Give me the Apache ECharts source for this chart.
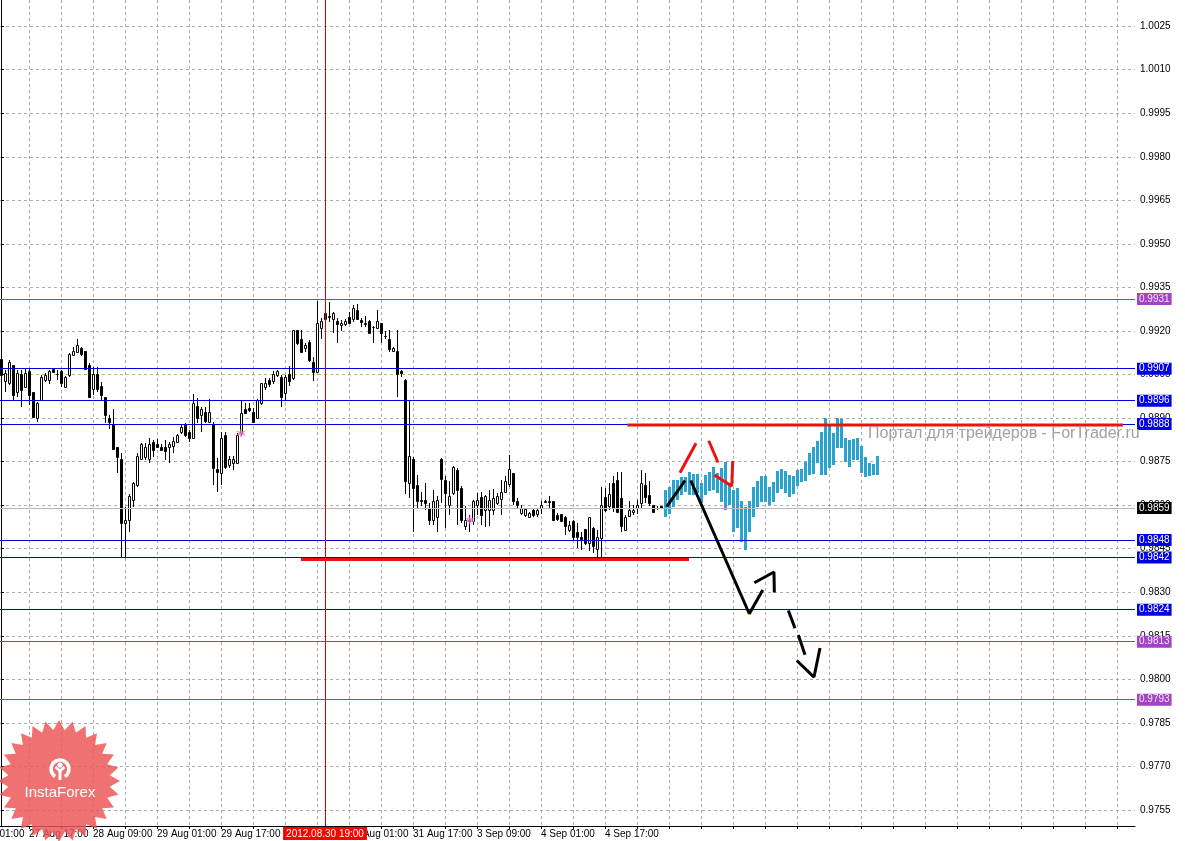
<!DOCTYPE html>
<html><head><meta charset="utf-8">
<script src="https://cdn.jsdelivr.net/npm/echarts@6/dist/echarts.min.js"></script>
<style>html,body{margin:0;padding:0;background:#fff}#c{width:1185px;height:841px}</style>
</head><body><div id="c"></div>
<script>
// ---- hourly candles (index 0 = 27 Aug 10:00) ----
const candleO = [
0.99102,0.99029,0.99020,0.99083,0.98991,0.99052,0.99008,0.99062,0.98991,0.98899,
0.98962,0.99031,0.99031,0.99069,0.99052,0.99062,0.99008,0.99048,0.99117,0.99129,
0.99142,0.99131,0.99083,0.98999,0.99052,0.99011,0.98972,0.98902,0.98879,0.98799,
0.98758,0.98538,0.98549,0.98618,0.98670,0.98758,0.98767,0.98758,0.98819,0.98811,
0.98802,0.98802,0.98799,0.98804,0.98819,0.98853,0.98876,0.98853,0.98830,0.98942,
0.98911,0.98922,0.98888,0.98880,0.98724,0.98712,0.98842,0.98739,0.98747,0.98747,
0.98848,0.98931,0.98934,0.98920,0.98899,0.98951,0.99008,0.99031,0.99029,0.99048,
0.99040,0.98985,0.99052,0.99037,0.99203,0.99171,0.99140,0.99161,0.99094,0.99060,
0.99211,0.99240,0.99251,0.99240,0.99234,0.99221,0.99223,0.99249,0.99240,0.99272,
0.99238,0.99226,0.99234,0.99215,0.99211,0.99226,0.99183,0.99171,0.99131,0.99131,
0.99062,0.99031,0.98676,0.98760,0.98668,0.98618,0.98618,0.98590,0.98550,0.98561,
0.98758,0.98687,0.98601,0.98641,0.98722,0.98659,0.98529,0.98550,0.98544,0.98601,
0.98628,0.98582,0.98582,0.98582,0.98609,0.98621,0.98647,0.98672,0.98710,0.98613,
0.98573,0.98567,0.98559,0.98584,0.98570,0.98590,0.98613,0.98612,0.98613,0.98567,
0.98570,0.98559,0.98515,0.98547,0.98509,0.98492,0.98517,0.98469,0.98521,0.98449,
0.98487,0.98628,0.98596,0.98676,0.98687,0.98624,0.98515,0.98563,0.98575,0.98590,
0.98609,0.98670,0.98636,0.98601,0.98590,0.98598];
const candleH = [
0.99140,0.99066,0.99100,0.99083,0.99066,0.99066,0.99069,0.99069,0.98991,0.98957,
0.99048,0.99054,0.99066,0.99074,0.99066,0.99066,0.99045,0.99123,0.99146,0.99171,
0.99146,0.99131,0.99089,0.99077,0.99077,0.99025,0.98972,0.98911,0.98930,0.98802,
0.98779,0.98595,0.98639,0.98681,0.98779,0.98813,0.98813,0.98830,0.98825,0.98827,
0.98811,0.98825,0.98819,0.98836,0.98845,0.98879,0.98882,0.98859,0.98983,0.98968,
0.98937,0.98937,0.98965,0.98888,0.98762,0.98853,0.98853,0.98770,0.98770,0.98848,
0.98962,0.98951,0.98951,0.98934,0.98965,0.99022,0.99037,0.99037,0.99063,0.99066,
0.99048,0.99048,0.99079,0.99203,0.99203,0.99203,0.99157,0.99169,0.99112,0.99303,
0.99243,0.99301,0.99301,0.99266,0.99243,0.99238,0.99240,0.99266,0.99289,0.99292,
0.99243,0.99251,0.99238,0.99217,0.99272,0.99226,0.99201,0.99203,0.99146,0.99203,
0.99066,0.99034,0.98962,0.98767,0.98705,0.98647,0.98676,0.98607,0.98651,0.98630,
0.98762,0.98699,0.98682,0.98735,0.98727,0.98667,0.98596,0.98567,0.98618,0.98641,
0.98647,0.98636,0.98653,0.98655,0.98641,0.98687,0.98699,0.98773,0.98710,0.98624,
0.98601,0.98590,0.98578,0.98590,0.98590,0.98616,0.98618,0.98630,0.98613,0.98573,
0.98570,0.98563,0.98544,0.98550,0.98538,0.98509,0.98517,0.98561,0.98524,0.98515,
0.98664,0.98659,0.98678,0.98699,0.98713,0.98713,0.98567,0.98613,0.98601,0.98618,
0.98722,0.98710,0.98682,0.98601,0.98596,0.98598];
const candleL = [
0.99040,0.98991,0.99014,0.98962,0.98974,0.98939,0.99003,0.98945,0.98899,0.98888,
0.98960,0.99025,0.99016,0.99054,0.99031,0.99008,0.99006,0.99043,0.99114,0.99123,
0.99114,0.99066,0.98972,0.98980,0.98991,0.98962,0.98882,0.98861,0.98790,0.98710,
0.98417,0.98417,0.98506,0.98595,0.98664,0.98756,0.98756,0.98747,0.98767,0.98796,
0.98788,0.98756,0.98747,0.98779,0.98813,0.98845,0.98836,0.98819,0.98827,0.98882,
0.98851,0.98884,0.98882,0.98670,0.98647,0.98670,0.98724,0.98729,0.98721,0.98747,
0.98838,0.98916,0.98922,0.98888,0.98896,0.98945,0.98997,0.99008,0.99017,0.99043,
0.98939,0.98962,0.99011,0.99031,0.99152,0.99123,0.99129,0.99094,0.99029,0.99056,
0.99171,0.99235,0.99232,0.99194,0.99160,0.99201,0.99217,0.99223,0.99232,0.99238,
0.99215,0.99215,0.99190,0.99157,0.99206,0.99157,0.99171,0.99129,0.99129,0.98972,
0.99040,0.98638,0.98624,0.98509,0.98590,0.98596,0.98584,0.98532,0.98532,0.98509,
0.98609,0.98521,0.98567,0.98636,0.98532,0.98538,0.98515,0.98509,0.98532,0.98567,
0.98532,0.98524,0.98527,0.98567,0.98601,0.98567,0.98641,0.98664,0.98601,0.98590,
0.98567,0.98559,0.98555,0.98559,0.98559,0.98570,0.98607,0.98590,0.98547,0.98547,
0.98544,0.98498,0.98509,0.98481,0.98452,0.98446,0.98464,0.98441,0.98435,0.98418,
0.98418,0.98578,0.98584,0.98578,0.98573,0.98506,0.98513,0.98561,0.98567,0.98570,
0.98590,0.98609,0.98598,0.98575,0.98584,0.98590];
const candleC = [
0.99048,0.99054,0.99094,0.98980,0.99054,0.98997,0.99054,0.98980,0.98905,0.98951,
0.99040,0.99048,0.99062,0.99060,0.99051,0.99020,0.99040,0.99120,0.99131,0.99152,
0.99121,0.99069,0.98972,0.99052,0.98999,0.98980,0.98911,0.98888,0.98793,0.98767,
0.98538,0.98549,0.98630,0.98678,0.98770,0.98811,0.98802,0.98811,0.98790,0.98799,
0.98790,0.98788,0.98811,0.98822,0.98842,0.98871,0.98842,0.98830,0.98951,0.98899,
0.98931,0.98890,0.98920,0.98729,0.98716,0.98830,0.98733,0.98758,0.98758,0.98842,
0.98919,0.98919,0.98928,0.98888,0.98962,0.99020,0.99020,0.99017,0.99052,0.99062,
0.98972,0.99043,0.99029,0.99203,0.99157,0.99129,0.99152,0.99100,0.99060,0.99226,
0.99234,0.99261,0.99249,0.99261,0.99223,0.99226,0.99234,0.99226,0.99280,0.99240,
0.99232,0.99225,0.99192,0.99214,0.99234,0.99192,0.99182,0.99137,0.99140,0.99051,
0.99054,0.98683,0.98770,0.98659,0.98613,0.98613,0.98607,0.98550,0.98613,0.98618,
0.98690,0.98641,0.98630,0.98731,0.98653,0.98550,0.98550,0.98544,0.98613,0.98618,
0.98567,0.98630,0.98618,0.98624,0.98630,0.98647,0.98682,0.98724,0.98613,0.98601,
0.98590,0.98586,0.98573,0.98567,0.98584,0.98601,0.98612,0.98613,0.98550,0.98552,
0.98547,0.98529,0.98532,0.98492,0.98492,0.98483,0.98469,0.98559,0.98458,0.98490,
0.98601,0.98584,0.98639,0.98590,0.98575,0.98527,0.98561,0.98582,0.98582,0.98601,
0.98678,0.98628,0.98607,0.98578,0.98589,0.98590];

// ---- projected (cyan) bars, starting at index 166 ----
const forecastStart = 166;
const forecastH = [
0.98653,0.98663,0.98687,0.98687,0.98697,0.98697,0.98714,0.98708,0.98708,0.98677,
0.98704,0.98714,0.98732,0.98711,0.98728,0.98749,0.98677,0.98653,0.98659,0.98615,
0.98594,0.98615,0.98663,0.98684,0.98701,0.98701,0.98663,0.98680,0.98718,0.98725,
0.98718,0.98704,0.98701,0.98721,0.98725,0.98749,0.98780,0.98801,0.98821,0.98852,
0.98900,0.98876,0.98849,0.98900,0.98897,0.98832,0.98825,0.98828,0.98832,0.98804,
0.98766,0.98745,0.98742,0.98770];
const forecastL = [
0.98560,0.98570,0.98594,0.98618,0.98635,0.98646,0.98635,0.98635,0.98642,0.98608,
0.98635,0.98649,0.98653,0.98642,0.98611,0.98584,0.98601,0.98508,0.98522,0.98473,
0.98446,0.98508,0.98560,0.98594,0.98611,0.98611,0.98601,0.98611,0.98642,0.98656,
0.98642,0.98628,0.98639,0.98666,0.98680,0.98684,0.98704,0.98708,0.98745,0.98704,
0.98704,0.98728,0.98739,0.98797,0.98797,0.98749,0.98732,0.98756,0.98756,0.98711,
0.98697,0.98701,0.98704,0.98704];

// ---- axis ticks / labels ----
const timeTickIdx = [-9,7,23,39,55,71,87,103,119,135,151];
const timeTickText = ['27 Aug 01:00','27 Aug 17:00','28 Aug 09:00','29 Aug 01:00','29 Aug 17:00','30 Aug 09:00','31 Aug 01:00','31 Aug 17:00','3 Sep 09:00','4 Sep 01:00','4 Sep 17:00'];
const priceTicks = [0.9755,0.9770,0.9785,0.9800,0.9815,0.9830,0.9845,0.9860,0.9875,0.9890,0.9905,0.9920,0.9935,0.9950,0.9965,0.9980,0.9995,1.0010,1.0025];
const crossIdx = 81;
const crossText = '2012.08.30 19:00';

// ---- horizontal levels ----
const levelPrice = [0.9931,0.9907,0.9896,0.9888,0.9859,0.9848,0.9842,0.9824,0.9813,0.9793];
const levelKind  = ['purple','blue','blue','blue','bid','blue','blue','blue','purple','purple'];

// ---- drawn annotations [index, price] ----
const redTop = [[156.6,0.98876],[280.5,0.98876]];
const redBottom = [[75,0.98413],[172,0.98413]];
const blackUp = [[166.43,0.98595],[171.0,0.98685]];
const blackDown = [[172.43,0.98685],[187.08,0.98226],[190.43,0.98308]];
const blackHead1 = [[188.33,0.98333],[193.25,0.98370],[193.33,0.98299]];
const dashA = [[196.83,0.98237],[198.5,0.98176]];
const dashB = [[199.33,0.98153],[201.0,0.98085]];
const blackHead2 = [[198.93,0.98065],[203.25,0.98008],[204.75,0.98108]];
const red1 = [[169.75,0.98712],[173.75,0.98813]];
const red2 = [[176.93,0.98822],[179.25,0.98747]];
const red3 = [[178.33,0.98704],[182.68,0.98666],[182.93,0.98752]];
const starMarks = [[60,0.98848],[117.25,0.98549]];

// ---------------------------------------------
const FONT = 'Liberation Sans';
const candleData = candleO.map((o, i) => [i, o, candleH[i], candleL[i], candleC[i]]);
const forecastData = forecastH.map((h, k) => [forecastStart + k, h, forecastL[k]]);
const gridIdx = [];
for (let v = -1; v <= 283; v += 8) gridIdx.push(v);

const levelStyle = {
  purple: { line: '#9a32cd', box: '#a243c6', text: '#f4e8fa' },
  blue:   { line: '#0000d8', box: '#0000e4', text: '#ffffff' },
  bid:    { line: '#b8b8b8', box: '#000000', text: '#ffffff' }
};

function lineSeries(data, color, width, z) {
  return { type: 'line', data: data, symbol: 'none', showSymbol: false, silent: true,
    lineStyle: { color: color, width: width }, z: z, animation: false };
}

const chart = echarts.init(document.getElementById('c'), null, { renderer: 'canvas' });
chart.setOption({
  animation: false,
  backgroundColor: '#ffffff',
  textStyle: { fontFamily: FONT },
  grid: { left: -36, top: 0, width: 1171, height: 826, containLabel: false, outerBoundsMode: 'none' },
  xAxis: {
    type: 'value', min: -9.25, max: 283.5,
    axisLine: { show: true, onZero: false, lineStyle: { color: '#000', width: 1 } },
    axisTick: { show: true, customValues: gridIdx, length: 3, lineStyle: { color: '#000' } },
    axisLabel: { customValues: timeTickIdx, align: 'left', margin: 3, fontSize: 10, color: '#000', fontFamily: FONT,
      formatter: v => { const k = timeTickIdx.indexOf(Math.round(v)); return k >= 0 ? timeTickText[k] : ''; } },
    splitLine: { show: true, lineStyle: { color: '#b2aab2', type: [3, 3], width: 1 } }
  },
  yAxis: {
    type: 'value', position: 'right', min: 0.97495, max: 1.0034, scale: true,
    axisLine: { show: true, lineStyle: { color: '#000', width: 1 } },
    axisTick: { show: true, customValues: priceTicks, length: 3, lineStyle: { color: '#000' } },
    axisLabel: { customValues: priceTicks, margin: 5, fontSize: 10, color: '#000', fontFamily: FONT,
      formatter: v => v.toFixed(4) },
    splitLine: { show: true, lineStyle: { color: '#b2aab2', type: [3, 3], width: 1 } }
  },
  series: [
    {
      type: 'custom', z: 3, silent: true, data: candleData,
      encode: { x: 0, y: [1, 2, 3, 4] },
      renderItem: function (params, api) {
        const i = api.value(0), o = api.value(1), h = api.value(2), l = api.value(3), c = api.value(4);
        const pO = api.coord([i, o]), pH = api.coord([i, h]), pL = api.coord([i, l]), pC = api.coord([i, c]);
        const x = Math.round(pO[0]);
        const top = Math.round(Math.min(pO[1], pC[1])), bot = Math.round(Math.max(pO[1], pC[1]));
        return { type: 'group', children: [
          { type: 'line', shape: { x1: x + 0.5, y1: Math.round(pH[1]), x2: x + 0.5, y2: Math.round(pL[1]) },
            style: { stroke: '#000', lineWidth: 1 } },
          { type: 'rect', shape: { x: x - 0.5, y: top + 0.5, width: 2, height: Math.max(0, bot - top) },
            style: { fill: c >= o ? '#ffffff' : '#000000', stroke: '#000', lineWidth: 1 } }
        ] };
      }
    },
    {
      type: 'custom', z: 3, silent: true, data: forecastData,
      encode: { x: 0, y: [1, 2] },
      renderItem: function (params, api) {
        const i = api.value(0);
        const pH = api.coord([i, api.value(1)]), pL = api.coord([i, api.value(2)]);
        const x = Math.round(pH[0]);
        return { type: 'rect', shape: { x: x - 1, y: Math.round(pH[1]), width: 3, height: Math.round(pL[1]) - Math.round(pH[1]) },
          style: { fill: '#2aa3cf' } };
      }
    },
    {
      type: 'line', data: [], z: 4, silent: true, animation: false,
      markLine: {
        silent: true, animation: false, symbol: ['none', 'none'], precision: 4,
        data: levelPrice.map((p, k) => {
          const s = levelStyle[levelKind[k]];
          return { yAxis: p, lineStyle: { color: s.line, width: 1, type: 'solid' },
            label: { show: true, position: 'end', distance: 2, formatter: p.toFixed(4), color: s.text,
              backgroundColor: s.box, padding: [1, 2, 0, 2], fontSize: 10, fontFamily: FONT, lineHeight: 11 } };
        }).concat([{
          xAxis: crossIdx, lineStyle: { color: '#e00000', width: 1, type: 'solid' },
          label: { show: true, position: 'start', distance: 1, formatter: crossText, color: '#ffffff',
            backgroundColor: '#ff0000', padding: [2, 3, 1, 3], fontSize: 10, fontFamily: FONT }
        }])
      }
    },
    lineSeries(redTop, '#ee1111', 3, 5),
    lineSeries(redBottom, '#ee1111', 3, 5),
    lineSeries(blackUp, '#000', 3, 6),
    lineSeries(blackDown, '#000', 3, 6),
    lineSeries(blackHead1, '#000', 3, 6),
    lineSeries(dashA, '#000', 3, 6),
    lineSeries(dashB, '#000', 3, 6),
    lineSeries(blackHead2, '#000', 3, 6),
    lineSeries(red1, '#ee1111', 3, 6),
    lineSeries(red2, '#ee1111', 3, 6),
    lineSeries(red3, '#ee1111', 3, 6),
    {
      type: 'scatter', data: starMarks, z: 6, silent: true, symbolSize: 10,
      symbol: 'path://M5,0L6,3.3L9.3,2.5L7,5L9.3,7.5L6,6.7L5,10L4,6.7L0.7,7.5L3,5L0.7,2.5L4,3.3Z',
      itemStyle: { color: '#e67ccc' }
    }
  ],
  graphic: (function () {
    const pts = [];
    const N = 28, cx = 59, cy = 781, R = 61, r = 51;
    for (let k = 0; k < 2 * N; k++) {
      const a = Math.PI * k / N - Math.PI / 2;
      const rr = k % 2 === 0 ? R : r;
      pts.push([cx + rr * Math.cos(a), cy + rr * Math.sin(a)]);
    }
    return [
      { type: 'text', z: 50, silent: true,
        style: { text: 'Портал для трейдеров - ForTrader.ru', x: 868, y: 434, textVerticalAlign: 'middle',
          font: '16px "Liberation Sans"', fill: '#a69e9e' } },
      { type: 'polygon', z: 100, silent: true, shape: { points: pts }, style: { fill: 'rgba(236,86,86,0.84)' } },
      { type: 'arc', z: 101, silent: true, shape: { cx: 60, cy: 769, r: 9, startAngle: Math.PI * 0.68, endAngle: Math.PI * 2.32 },
        style: { stroke: '#fff', lineWidth: 3.5, fill: null } },
      { type: 'circle', z: 101, silent: true, shape: { cx: 60, cy: 765, r: 2.6 }, style: { fill: '#fff' } },
      { type: 'polyline', z: 101, silent: true, shape: { points: [[55.5, 767], [60, 771], [64.5, 767]] }, style: { stroke: '#fff', lineWidth: 2.5, fill: null } },
      { type: 'line', z: 101, silent: true, shape: { x1: 60, y1: 770, x2: 60, y2: 780 }, style: { stroke: '#fff', lineWidth: 3 } },
      { type: 'text', z: 101, silent: true,
        style: { text: 'InstaForex', x: 60, y: 793, textAlign: 'center', textVerticalAlign: 'middle',
          font: '15px "Liberation Sans"', fill: '#ffffff' } }
    ];
  })()
});
</script></body></html>
